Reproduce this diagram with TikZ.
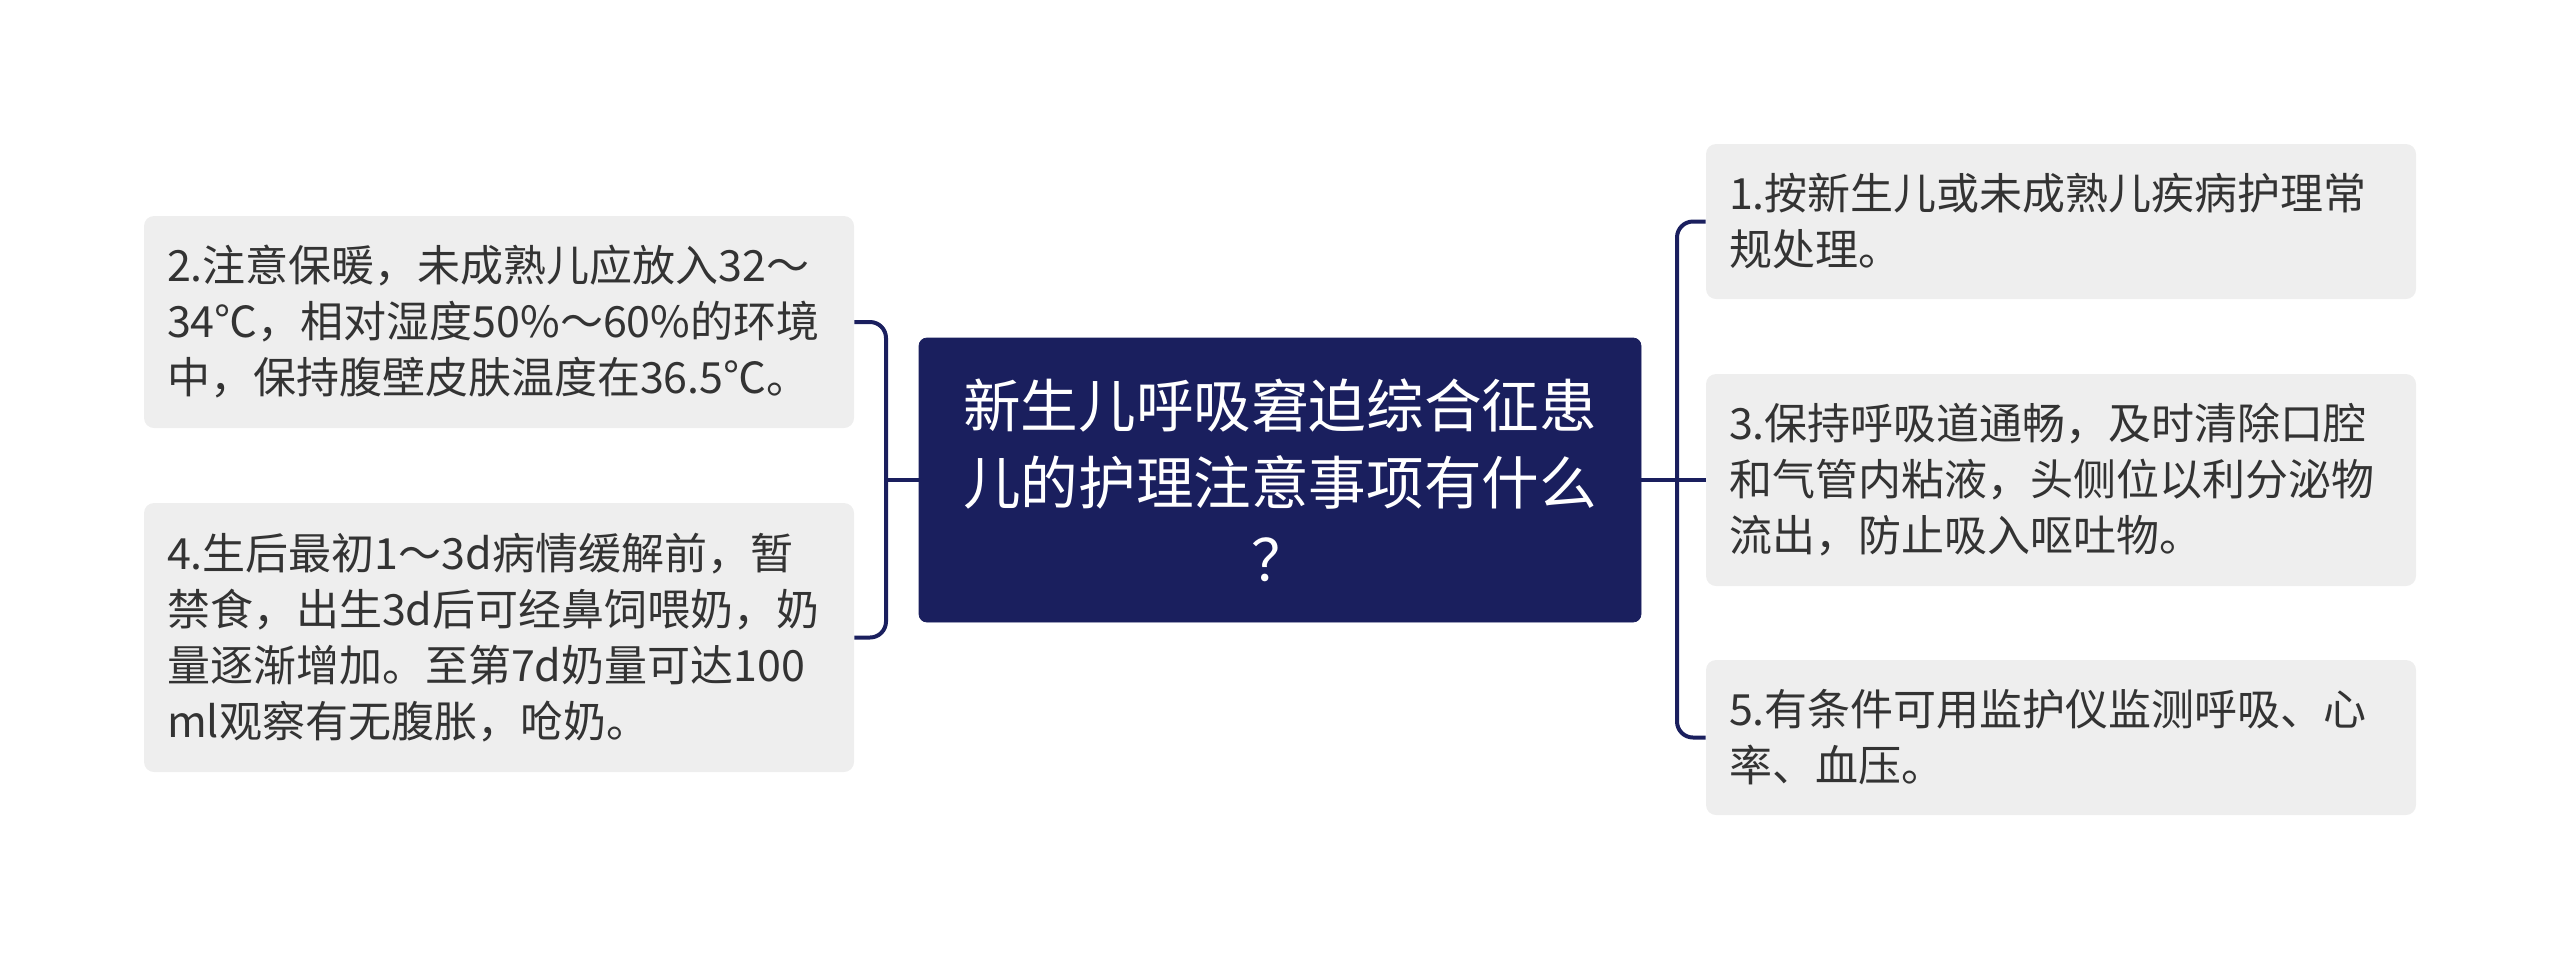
\documentclass[tikz,border=0pt]{standalone}
\usepackage{fontspec}
\newfontfamily\cjk{Noto Sans CJK SC}
\definecolor{navy}{RGB}{26,31,94}
\definecolor{leafgray}{RGB}{238,238,238}
\definecolor{ink}{RGB}{51,51,51}
\begin{document}
\begin{tikzpicture}
    [
    x=0.5pt,y=-0.5pt,
    root/.style={rectangle,rounded corners=4pt,fill=navy,draw=navy,text=white,align=center,
      font=\cjk\fontsize{28.8}{38.5}\selectfont,minimum width=361pt,minimum height=142pt,inner sep=0pt},
    leaf/.style={rectangle,rounded corners=5pt,fill=leafgray,text=ink,align=left,
      font=\cjk\fontsize{21.5}{28}\selectfont,text width=332pt,inner xsep=11.5pt,inner ysep=0pt},
    link/.style={draw=navy,line width=2pt,rounded corners=8pt}
    ]
    \useasboundingbox (0,0) rectangle (2560,960);
    \node (q) at (1280,480) [root] {新生儿呼吸窘迫综合征患\\儿的护理注意事项有什么\\？};
    \node (n2) at (499,322) [leaf,minimum height=106pt] {2.注意保暖，未成熟儿应放入32～\\34℃，相对湿度50\%～60\%的环境\\中，保持腹壁皮肤温度在36.5℃。};
    \node (n4) at (499,637.5) [leaf,minimum height=134.5pt] {4.生后最初1～3d病情缓解前，暂\\禁食，出生3d后可经鼻饲喂奶，奶\\量逐渐增加。至第7d奶量可达100\\ml观察有无腹胀，呛奶。};
    \node (n1) at (2061,221.5) [leaf,minimum height=77.5pt] {1.按新生儿或未成熟儿疾病护理常\\规处理。};
    \node (n3) at (2061,480) [leaf,minimum height=106pt] {3.保持呼吸道通畅，及时清除口腔\\和气管内粘液，头侧位以利分泌物\\流出，防止吸入呕吐物。};
    \node (n5) at (2061,737.5) [leaf,minimum height=77.5pt] {5.有条件可用监护仪监测呼吸、心\\率、血压。};
    \coordinate (lj) at (886,480);
    \coordinate (rj) at (1677,480);
    \draw [link] (n2.east) -| (lj) |- (n4.east);
    \draw [link] (q.west) -- (lj);
    \draw [link] (n1.west) -| (rj) |- (n5.west);
    \draw [link] (q.east) -- (n3.west);
  \end{tikzpicture}
\end{document}
